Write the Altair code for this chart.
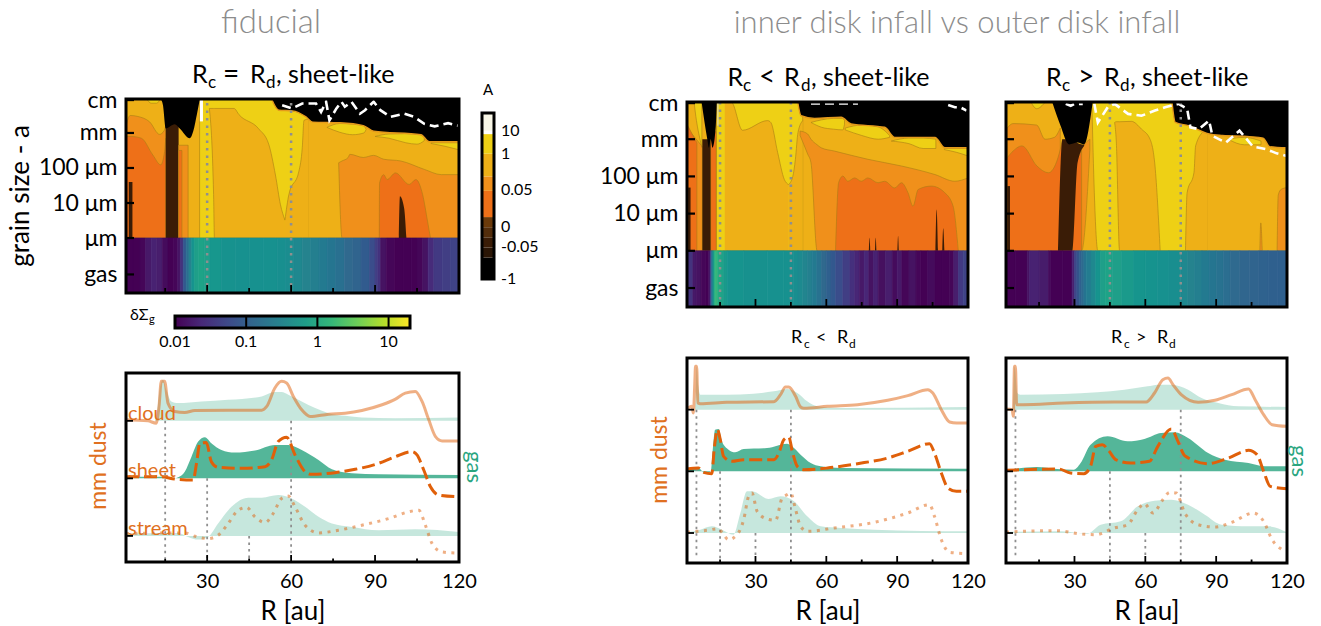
import altair as alt
import pandas as pd

FONT = "Lato"
C_BASE, C_YEL, C_MID, C_ORG = "#eeb017", "#eed015", "#f0901b", "#ee7018"
C_BRN, C_BLK, C_WHT = "#3a1c06", "#000000", "#ffffff"
C_DUST, C_GAS, C_LABEL = "#e0600a", "#1b9e77", "#e07020"
C_DOT = "#8f8f8f"
C_HEAD = "#8c8c8c"
XMIN, XMAX = 1, 120

# ---------------- heat-map contour regions: (colour, R, lower log a, upper log a)
TOP_L = [
    (C_BASE, [1, 120], 0, 3.97),
    (C_MID, [1, 2.5, 5.3, 9.4, 13, 14.6, 15.2], 0, [3.2, 3.5, 3.47, 3.32, 2.96, 3.06, 3.2]),
    (C_ORG, [1, 2.9, 6.5, 10.6, 13.4, 14.8, 15.2], 0, [2.9, 2.9, 2.85, 2.37, 2.09, 2.47, 2.85]),
    (C_BRN, [2, 3.3], 0, 1.6),
    (C_YEL, [8.4, 10, 12, 13.2], [3.97, 3.85, 3.85, 3.97], 3.97),
    (C_BRN, [15.2, 19.8], 0, 3.3),
    (C_MID, [19.8, 23.2], 0, 2.65),
    (C_ORG, [19.8, 21], 0, 2.5),
    (C_YEL, [27.3, 66], 0, 3.97),
    (C_BASE, [30.8, 32.3, 32.6, 39.6, 41.4, 48.4, 52, 54.4, 56.2, 57.8],
     [3.7, 1.24, 0, 0, 0, 0, 0, 0, 0, 0], [3.7, 3.7, 3.7, 3.7, 3.52, 3.12, 2.68, 1.8, 0.95, 0.51]),
    (C_BASE, [57.8, 59.2, 62.8, 64, 64.6, 66.2], 0, [0.51, 1.24, 1.91, 2.59, 3.36, 3.4]),
    (C_MID, [77, 78.2, 80.4, 81, 85.8, 89.5, 93.1, 99.2, 107.6, 113.7, 120],
     [2.15, 0, 0, 0, 0, 0, 0, 0, 0, 0, 0], [2.15, 2.2, 2.3, 2.39, 2.3, 2.36, 2.25, 2.2, 1.96, 1.81, 1.81]),
    (C_ORG, [91.5, 91.6, 93.1, 94.3, 97.3, 102.2, 104.6, 107, 108.8, 109.8], 0,
     [0, 1.57, 1.81, 1.67, 1.86, 1.53, 1.67, 1.24, 0.46, 0]),
    (C_BRN, [98.5, 98.9, 100.4, 101.2], 0, [0, 1.19, 0.85, 0]),
    (C_YEL, [72.8, 77.4, 82, 86, 86.8], [3.16, 3.02, 2.95, 3.0, 3.1], [3.16, 3.27, 3.25, 3.2, 3.1]),
    (C_YEL, [90, 95, 101, 105, 107.6], [2.9, 2.85, 2.72, 2.68, 2.78], [2.9, 2.97, 2.98, 2.97, 2.9]),
    (C_YEL, [110, 115, 120], [2.7, 2.62, 2.52], 2.72),
    (C_BLK, [13.4, 14.2, 15.2, 18.4, 20.2, 23.8, 25, 26.5, 27.4],
     [3.97, 3.8, 3.13, 3.25, 3.13, 2.85, 3.04, 3.6, 3.97], 3.97),
    (C_BLK, [53, 55.6, 60.4, 65.3, 67.7, 77.4, 85.8, 89.5, 106.4, 109.4, 120],
     [3.97, 3.65, 3.63, 3.46, 3.31, 3.29, 3.21, 3.05, 2.95, 2.75, 2.75], 3.97),
    (C_WHT, [27.4, 28.5], 3.33, 3.97),
]
TOP_M = [
    (C_BASE, [1, 120], 0, 4),
    (C_MID, [1, 7.5], 0, [3.3, 2.8]),
    (C_ORG, [1, 5.2], 0, [3.4, 2.9]),
    (C_BRN, [1.5, 2.5], 0, 1.7),
    (C_YEL, [4, 5, 6.5, 7.3], [3.99, 3.5, 3.0, 2.78], 4),
    (C_ORG, [11, 13.4], 0, 3.2),
    (C_BRN, [7.5, 11], 0, 3.0),
    (C_YEL, [13.5, 50], 0, 4),
    (C_BASE, [17, 17.1, 19.8, 24.5, 35.1, 36.5, 39.4, 42.2, 44], 0,
     [3.99, 3.99, 3.99, 3.24, 3.5, 3.45, 2.64, 1.92, 1.78]),
    (C_BASE, [44, 45.8, 46.9, 48, 50], 0, [1.78, 2.0, 2.46, 3.18, 3.5]),
    (C_MID, [48.9, 52.1, 53.5, 56.1, 57.8, 63.5, 77.6, 91.8, 106, 114.4, 120],
     [3.1, 2.6, 2.37, 0, 0, 0, 0, 0, 0, 0, 0],
     [3.22, 3.14, 3.0, 2.85, 2.77, 2.68, 2.46, 2.28, 2.05, 1.87, 1.96]),
    (C_ORG, [63.9, 65.2, 67, 69.1, 72, 74.8, 77.6, 81.9, 84.7, 89, 91.8, 94.6, 96.7, 98.9, 104.5, 110.2, 113.7, 115.9], 0,
     [0, 1.83, 2.01, 1.87, 1.96, 1.87, 1.96, 1.83, 1.87, 1.69, 1.83, 1.56, 1.2, 1.65, 1.74, 1.56, 1.2, 0]),
    (C_BRN, [106.2, 106.7, 107.3], 0, [0, 1.11, 0]),
    (C_BRN, [109.1, 109.5, 110], 0, [0, 0.61, 0]),
    (C_BRN, [78, 78.3, 78.6], 0, [0, 0.35, 0]),
    (C_BRN, [80.6, 80.9, 81.2], 0, [0, 0.35, 0]),
    (C_BRN, [90.1, 90.4, 90.7], 0, [0, 0.4, 0]),
    (C_YEL, [53.5, 58, 63, 67, 67.7], [3.45, 3.32, 3.27, 3.25, 3.4], [3.45, 3.52, 3.56, 3.56, 3.5]),
    (C_YEL, [68, 75, 82, 86.8], [3.25, 3.1, 3.0, 3.05], [3.3, 3.38, 3.33, 3.1]),
    (C_YEL, [87.5, 95, 101, 106.4], [2.95, 2.88, 2.75, 2.75], [2.95, 3.03, 3.03, 3.0]),
    (C_YEL, [110, 115, 120], [2.72, 2.65, 2.55], 2.75),
    (C_BLK, [7.2, 9.6, 10.3, 11, 11.8, 13.2, 13.6], [3.99, 3.0, 2.77, 3.0, 2.77, 3.36, 3.99], 4),
    (C_BLK, [47.9, 49.3, 55, 66.3, 70.5, 84.7, 89, 106, 110.2, 120],
     [3.99, 3.63, 3.56, 3.59, 3.41, 3.32, 3.05, 3.05, 2.77, 2.77], 4),
    ("#dddddd", [13.9, 14.3], 3.36, 4),
]
TOP_R = [
    (C_BASE, [1, 120], 0, 4),
    (C_YEL, [11.6, 14, 17.5], [3.99, 3.82, 3.99], 4),
    (C_MID, [1.5, 4, 14, 17.5, 21.5, 24], 0, [3.3, 3.42, 3.38, 3.0, 3.05, 3.3]),
    (C_ORG, [1.5, 3.5, 7.8, 14.1, 19, 23, 25], 0, [2.5, 2.65, 2.82, 2.28, 2.1, 2.5, 3.0]),
    (C_BRN, [1.6, 2.7], 0, 1.74),
    (C_MID, [29.1, 33, 36.5], [0, 0, 2.7], [2.5, 2.8, 3.0]),
    (C_ORG, [29.1, 31.5, 33], 0, [2.2, 2.5, 2.7]),
    (C_BRN, [23, 24.9, 29.1, 31.3, 34.1], [0, 0, 0, 2.37, 2.82], [0, 3.0, 3.0, 2.9, 2.85]),
    (C_YEL, [37.4, 38.4, 39.9, 86], [3.9, 1.56, 0, 0], 4),
    (C_BASE, [47, 47.7, 49.1, 54.1, 58.4, 62, 64.1, 66.3], [3.45, 2.95, 0, 0, 0, 0, 0, 0],
     [3.45, 3.47, 3.47, 3.48, 3.27, 3.0, 2.28, 0]),
    (C_BASE, [77, 77.7, 80.6, 81.3, 84.9, 86.2], 0, [0, 1.56, 2.1, 2.82, 3.23, 3.3]),
    (C_MID, [115.8, 116.3, 117.5, 120], 0, [0, 1.5, 1.65, 1.7]),
    (C_MID, [108.5, 108.9, 109.5], 0, [0, 0.75, 0]),
    (C_YEL, [95, 102, 109], [3.0, 2.85, 2.85], [3.0, 3.05, 2.95]),
    (C_BLK, [20.6, 24.1, 27.7, 31.3, 34.1, 37.7], [3.99, 3.36, 2.86, 2.91, 2.86, 3.99], 4),
    (C_BLK, [71.3, 72.7, 78.4, 87, 92.7, 104.1, 109.9, 112.7, 120],
     [3.99, 3.45, 3.36, 3.14, 3.1, 3.07, 3.03, 2.8, 2.77], 4),
]
WHITE_L = [[(56.8, 3.79), (60.4, 3.70), (64, 3.84), (68.9, 3.84), (70.7, 3.6), (72.5, 3.89), (73.7, 3.36),
            (76.2, 3.7), (78, 3.89), (79.2, 3.75), (81.6, 3.89), (84.6, 3.55), (86.4, 3.65), (89.5, 3.89),
            (91.9, 3.65), (95.5, 3.46), (100.4, 3.55), (103.9, 3.46), (107.6, 3.26), (111.3, 3.19),
            (116.1, 3.28), (119.7, 3.21)]]
WHITE_M = [[(53.5, 3.96), (73.4, 3.96)], [(111.6, 3.92), (114.4, 3.86), (116.6, 3.86), (119.4, 3.77)]]
WHITE_R = [[(26.3, 3.95), (28.4, 3.9), (30, 3.95), (33.5, 3.95)],
           [(38.4, 3.95), (39.9, 3.45), (44.1, 3.86), (47, 3.95), (52.7, 3.68), (58.4, 3.63), (64.1, 3.77),
            (68.4, 3.86), (74.1, 3.95), (77.7, 3.82), (79.1, 3.32), (82.7, 3.27), (87, 3.5), (88.4, 3.09),
            (94.1, 2.91), (99.9, 3.23), (105.6, 2.8), (111.3, 2.73), (115.6, 2.62), (119.9, 2.55)]]

# ---------------- gas surface-density strips
GAS_L_EDGES = [1, 3.5, 6, 8, 10, 12, 14, 16, 18, 19.5, 20.5, 21.5, 22.5, 23.5, 24.5, 25.5, 27, 29, 31, 35, 40, 45, 50, 55,
               58, 61, 64, 67, 70, 73, 76, 79, 82, 85, 88, 90, 91, 92, 94, 97, 100, 103, 105, 107, 109, 111, 114, 117, 120]
GAS_L_VALS = [.01, .01, .011, .016, .02, .018, .012, .01, .011, .015, .03, .08, .15, .3, .5, .7, .8, .7, .55, .47,
              .45, .45, .45, .43, .4, .35, .3, .26, .22, .19, .16, .13, .11, .085, .06, .04, .03, .014, .011, .01,
              .01, .01, .011, .014, .025, .035, .04, .045]
GAS_M_EDGES = [1, 3.5, 5, 7, 9, 10, 10.8, 11.4, 12, 12.6, 13.2, 14, 15, 16.5, 18, 25, 35, 42, 46, 48, 50, 52, 54, 56, 58,
               60, 62, 64, 67, 70, 72, 74, 76, 78, 80, 82, 85, 88, 90, 92, 95, 98, 100, 103, 106, 109, 112, 114, 116, 118, 120]
GAS_M_VALS = [.03, .016, .014, .011, .01, .012, .05, .2, .6, 1.2, 1.6, 1.1, .8, .6, .5, .46, .45, .45, .42, .37,
              .32, .27, .22, .17, .13, .1, .08, .06, .04, .028, .022, .016, .022, .014, .02, .013, .018, .012, .016, .011,
              .014, .011, .01, .012, .01, .01, .011, .018, .035, .045]
GAS_R_EDGES = [1, 5, 10, 11, 15, 19, 20, 25, 29, 30, 31, 32, 33, 34, 35, 37, 39, 41, 43, 46, 50, 55, 60, 65, 70, 75, 78,
               81, 84, 87, 90, 93, 96, 100, 104, 108, 112, 116, 120]
GAS_R_VALS = [.01, .01, .014, .02, .017, .012, .01, .01, .02, .05, .07, .1, .14, .18, .24, .35, .5, .7, .8, .7,
              .6, .52, .48, .45, .42, .35, .3, .26, .22, .19, .17, .15, .135, .12, .11, .105, .1, .1]

# ---------------- profile curves (R, height in arbitrary reading units, larger = lower on the panel)
L_CG = [(1, 183), (11.2, 183), (12.2, 150), (13.1, 85), (14.2, 60), (15.4, 90), (17.2, 125), (19.6, 130), (28, 125), (37.5, 120),
        (49.5, 110), (54.2, 97), (56.6, 97), (59, 105), (63.8, 125), (68.6, 145), (73.4, 160), (79.3, 168), (85.3, 173), (97.3, 175), (120, 173)]
L_CD = [(1, 180), (8.8, 183), (11.8, 190), (12.8, 140), (13.6, 65), (14.8, 65), (16, 130), (18.4, 155), (22, 158), (25.6, 152),
        (37.5, 151), (49.5, 151), (51.3, 140), (54.2, 85), (56.6, 65), (58.4, 70), (60.8, 110), (63.8, 150), (66.8, 170), (73.4, 163),
        (79.3, 160), (85.3, 152), (92.5, 135), (97.3, 118), (100.8, 100), (104.4, 95), (106.8, 125), (109.2, 180), (111.6, 230), (114, 243), (120, 243)]
L_SG = [(1, 350), (13.6, 350), (17.2, 358), (19.6, 352), (22, 335), (24.4, 290), (26.8, 245), (29.2, 232), (31.5, 250), (35.1, 270),
        (39.9, 278), (47.1, 272), (54.2, 255), (59, 255), (63.8, 270), (69.8, 300), (74.6, 328), (81.7, 340), (91.3, 343), (120, 345)]
L_SD = [(1, 350), (13.6, 350), (18.4, 357), (25, 360), (26.2, 310), (27.4, 250), (29.7, 248), (31.5, 305), (33.9, 322), (42.3, 325),
        (50.7, 320), (53, 300), (55.4, 245), (58.4, 232), (61.4, 285), (65, 335), (67.4, 343), (75.7, 338), (82.9, 328), (91.3, 310),
        (97.3, 290), (103.2, 275), (105, 285), (107.4, 330), (109.8, 380), (112.8, 405), (120, 410)]
L_TG = [(1, 520), (19.6, 518), (23.2, 530), (26.8, 538), (30.3, 530), (33.9, 490), (38.7, 440), (44.7, 413), (49.5, 413), (55.4, 405),
        (60.2, 415), (65, 440), (69.8, 470), (74.6, 490), (81.7, 500), (91.3, 510), (104.4, 507), (120, 515)]
L_TD = [(1, 520), (22, 518), (25.6, 528), (30.3, 535), (33.9, 525), (37.5, 490), (41.1, 450), (44.1, 442), (47.1, 470), (50.7, 487),
        (53.6, 460), (56.6, 415), (59, 408), (61.4, 440), (65, 495), (69.8, 518), (76.9, 510), (85.3, 495), (94.9, 475), (102, 455),
        (105.6, 450), (108, 495), (110.4, 550), (114, 575), (118.8, 578)]

M_CG = [(1, 180), (4.4, 180), (5.1, 50), (5.8, 110), (6.6, 135), (17.9, 135), (29.2, 132), (37.8, 125), (43.4, 118), (47.7, 130),
        (51.9, 155), (56.2, 170), (66.1, 175), (120, 172)]
M_CD = [(1, 178), (3, 170), (3.7, 190), (4.3, 100), (4.6, 50), (5.1, 50), (5.6, 160), (6.6, 162), (17.9, 158), (37.8, 156), (40.6, 135),
        (42.7, 112), (44.1, 112), (47, 140), (49.1, 172), (50.5, 176), (60.5, 170), (73.2, 165), (86, 152), (94.5, 138), (103, 120),
        (105.1, 130), (108.7, 180), (112.2, 217), (115.1, 220), (120, 220)]
M_SG = [(1, 358), (5.8, 355), (8.7, 372), (11.1, 365), (11.9, 300), (12.9, 240), (14.4, 238), (15.8, 275), (18.6, 300), (21.4, 308),
        (25, 298), (34.9, 295), (43.4, 282), (46.3, 295), (49.1, 315), (53.4, 340), (57.6, 350), (66.1, 355), (120, 357)]
M_SD = [(1, 358), (5.8, 355), (8, 368), (11.5, 372), (12.5, 300), (13.9, 240), (15.1, 270), (16.5, 320), (20, 335), (25, 330),
        (37.8, 330), (39.9, 310), (42, 270), (44.1, 262), (45.6, 305), (47.7, 350), (50.5, 360), (60.5, 355), (73.2, 342), (86, 325),
        (94.5, 305), (103.7, 282), (105.8, 310), (108.7, 370), (111.5, 415), (115.1, 425), (120, 425)]
M_TG = [(1, 548), (6.6, 540), (11.5, 530), (15.8, 540), (20.7, 555), (23.6, 490), (26.4, 425), (28.5, 425), (35.6, 448), (40.6, 440),
        (46.3, 455), (51.9, 500), (57.6, 530), (66.1, 535), (80.3, 540), (120, 545)]
M_TD = [(1, 548), (9.4, 542), (14.4, 537), (15.8, 548), (18.6, 570), (22.2, 555), (25, 510), (27.1, 440), (28.5, 430), (30.7, 485),
        (34.9, 508), (38.5, 512), (41.3, 445), (43.4, 435), (44.9, 430), (47, 480), (49.1, 530), (51.9, 545), (63.3, 535), (80.3, 518),
        (94.5, 490), (103.7, 465), (105.8, 500), (108.7, 570), (112.2, 608), (120, 612)]

R_CG = [(1, 180), (3.8, 180), (4.6, 50), (5.8, 130), (7, 135), (25.5, 133), (39.7, 128), (51.1, 120), (61, 110), (65.3, 105), (71, 105),
        (78.1, 120), (83.8, 145), (90.9, 160), (99.4, 170), (120, 172)]
R_CD = [(1, 178), (3.6, 180), (4.1, 200), (4.6, 50), (5, 50), (5.5, 165), (8.4, 165), (25.5, 160), (46.8, 157), (60.3, 157), (63.9, 130),
        (67.4, 90), (69.6, 85), (71.7, 105), (75.2, 135), (82.4, 158), (89.5, 152), (96.6, 135), (103.7, 118), (106.5, 150), (110.1, 195),
        (113.7, 225), (120, 230)]
R_SG = [(1, 362), (14.1, 352), (22.6, 358), (29.7, 360), (32.6, 340), (36.8, 285), (44, 260), (52.5, 275), (59.6, 268), (66.7, 250),
        (72.4, 248), (78.1, 265), (86.6, 310), (93.7, 330), (103.7, 340), (110.8, 350), (120, 350)]
R_SD = [(1, 362), (23.3, 358), (28.3, 370), (34, 372), (36.8, 350), (39, 290), (41.8, 285), (44.7, 305), (47.5, 330), (53.9, 340),
        (61.7, 335), (65.3, 290), (71, 238), (73.8, 275), (76.7, 318), (86.6, 342), (95.2, 325), (103.7, 302), (107.3, 315), (110.1, 365),
        (112.9, 410), (120, 417)]
R_TG = [(1, 547), (24, 545), (35.4, 552), (41.1, 525), (49.6, 515), (56.8, 470), (63.9, 453), (71, 450), (78.1, 465), (85.2, 495),
        (92.3, 525), (103.7, 530), (112.2, 530), (120, 548)]
R_TD = [(1, 547), (22.6, 543), (32.6, 553), (39, 555), (46.8, 535), (52.5, 525), (56.8, 480), (59.6, 462), (63.2, 490), (67.4, 450),
        (70.3, 428), (73.1, 430), (76.7, 490), (82.4, 525), (89.5, 532), (96.6, 518), (105.8, 490), (110.1, 515), (113.7, 570), (117.9, 600)]

# vertical markers: (R, top reading) for profile panels
V_L = [(15, 183), (60, 183), (30, 355), (45, 527)]
V_M = [(5, 180), (45, 180), (15, 365), (30, 550)]
V_R = [(5, 180), (75, 180), (45, 365), (60, 550)]

# colour bar levels
A_EDGES = [0, .129, .19, .251, .312, .373, .531, .618, .755, .873, .894, 1]
A_COLORS = ["#000000", "#2a1505", "#3a1c06", "#532d0b", "#6b3a0a", C_ORG, C_MID, C_BASE, C_YEL, "#ffffff", "#f8f6e6"]
A_TICKS = [0, .19, .312, .537, .755, .894]
A_LABELS = ["-1", "-0.05", "0", "0.05", "1", "10"]
VIRIDIS = ["#440154", "#482878", "#3e4989", "#31688e", "#26828e", "#1f9e89", "#35b779", "#6ece58", "#b5de2b", "#fde725"]
CB_LABELS = [0.01, 0.1, 1, 10]
CB_TICKS = [0.1, 1, 10]
CB_DOMAIN = [0.01, 20]

ONE = pd.DataFrame({"a": [0]})


def T(text, x, y, size, color="black", angle=0, align="left", baseline="alphabetic", weight=400):
    return alt.Chart(ONE).mark_text(text=text, font=FONT, fontSize=size, color=color, angle=angle, align=align,
                                    baseline=baseline, fontWeight=weight, clip=False).encode(x=alt.value(x), y=alt.value(y))


def frame(w, top, bottom):
    return alt.Chart(ONE).mark_rect(fillOpacity=0, stroke="black", strokeWidth=3).encode(
        x=alt.value(0), x2=alt.value(w), y=alt.value(top), y2=alt.value(bottom))


def spacer(w, h):
    return alt.Chart(ONE).mark_point(opacity=0, size=1).encode(x=alt.value(0), y=alt.value(0)).properties(width=w, height=h)


def top_panel(regions, whites, edges, vals, vlines, w, h, top, ymin, ymax, gas_tick, labelled, extra):
    xs = alt.Scale(domain=[XMIN, XMAX], nice=False, zero=False)
    ys = alt.Scale(domain=[ymin, ymax], nice=False, zero=False, range=[top + h, top])
    xa = alt.Axis(labels=False, ticks=False, domain=False, grid=False, title=None)
    ya = alt.Axis(values=[gas_tick, 0, 1, 2, 3, ymax - 0.03], domain=False, ticks=False, grid=False, title=None,
                  labels=labelled, labelFontSize=23, labelColor="black", labelPadding=9, labelOverlap=False, labelBound=False,
                  labelFlush=False,
                  labelExpr="datum.value>3.5?'cm':datum.value>2.5?'mm':datum.value>1.5?'100 μm':datum.value>0.5?'10 μm':datum.value>-0.5?'μm':'gas'")
    X = alt.X("R:Q", scale=xs, axis=xa)
    Y = alt.Y("L:Q", scale=ys, axis=ya)
    layers = []
    for i, (color, R, lo, hi) in enumerate(regions):
        lo = lo if isinstance(lo, list) else [lo] * len(R)
        hi = hi if isinstance(hi, list) else [hi] * len(R)
        d = pd.DataFrame({"R": R, "L": lo, "U": hi})
        line_only = color == C_BASE and i > 0
        if color == C_BLK and R[-1] >= 120:
            st, sw = "#e59a1c", 1.4
        elif color in (C_BLK, C_BRN, C_WHT, "#dddddd") or line_only:
            st, sw = color, 0
        else:
            st, sw = "#a97d14", 0.6
        layers.append(alt.Chart(d).mark_area(color=color, stroke=st, strokeWidth=sw, opacity=1, clip=True,
                                             interpolate="monotone").encode(x=X, y=Y, y2="U:Q"))
        if line_only:
            dh = pd.DataFrame({"R": R, "L": hi})
            layers.append(alt.Chart(dh).mark_line(color="#a97d14", strokeWidth=0.6, clip=True, interpolate="monotone").encode(x=X, y=Y))
            dl = pd.DataFrame({"R": R, "L": lo})
            layers.append(alt.Chart(dl).mark_line(color="#a97d14", strokeWidth=0.6, clip=True, interpolate="monotone").encode(x=X, y=Y))
    band = pd.DataFrame({"R": edges[:-1], "R2": edges[1:], "L": ymin, "U": 0.0, "v": vals})
    cs = alt.Scale(type="log", domain=CB_DOMAIN, range=VIRIDIS)
    layers.append(alt.Chart(band).mark_rect(strokeWidth=0.7).encode(
        x=X, x2="R2:Q", y=Y, y2="U:Q",
        color=alt.Color("v:Q", scale=cs, legend=None), stroke=alt.Stroke("v:Q", scale=cs, legend=None)))
    for seg in whites:
        d = pd.DataFrame(seg, columns=["R", "L"])
        layers.append(alt.Chart(d).mark_line(color="white", strokeWidth=2.6, strokeDash=[9, 5], clip=True).encode(x=X, y=Y))
    d = pd.DataFrame({"R": vlines, "L": [ymin] * len(vlines), "U": [ymax] * len(vlines)})
    layers.append(alt.Chart(d).mark_rule(color=C_DOT, strokeWidth=2.5, strokeDash=[2.5, 5]).encode(x=X, y=Y, y2="U:Q"))
    ppx = (ymax - ymin) / h
    d = pd.DataFrame({"R": [15, 30, 45, 60, 75, 90, 105], "L": [ymin] * 7,
                      "U": [ymin + n * ppx for n in (5, 8, 5, 8, 5, 8, 5)]})
    layers.append(alt.Chart(d).mark_rule(color="black", strokeWidth=1.8).encode(x=X, y=Y, y2="U:Q"))
    d = pd.DataFrame({"R": [XMIN] * 6, "R2": [XMIN + 8 * (XMAX - XMIN) / w] * 6, "L": [gas_tick, 0, 1, 2, 3, ymax - 0.03]})
    layers.append(alt.Chart(d).mark_rule(color="black", strokeWidth=2.2).encode(x=X, x2="R2:Q", y=Y))
    layers.append(frame(w, top, top + h))
    layers.extend(extra)
    return alt.layer(*layers).properties(width=w, height=top + h)


def bottom_panel(curves, baselines, vmarks, w, h, top, zmin, zmax, ppx, extra):
    xs = alt.Scale(domain=[XMIN, XMAX], nice=False, zero=False)
    ys = alt.Scale(domain=[zmax, zmin], nice=False, zero=False, range=[top + h, top])
    xa = alt.Axis(values=[30, 60, 90, 120], title="R  [au]", labelFontSize=20, titleFontSize=26, titleFontWeight="normal",
                  titleColor="black", labelColor="black", domain=False, ticks=False, grid=False, labelPadding=8, titlePadding=7,
                  labelFlush=False, labelAngle=0, format="d")
    ya = alt.Axis(labels=False, ticks=False, domain=False, grid=False, title=None)
    X = alt.X("R:Q", scale=xs, axis=xa)
    Y = alt.Y("z:Q", scale=ys, axis=ya)
    layers = []
    gas_op = [0.25, 0.75, 0.25]
    for (gas, _), base, op in zip(curves, baselines, gas_op):
        d = pd.DataFrame(gas, columns=["R", "z"])
        d["b"] = base
        layers.append(alt.Chart(d).mark_area(color=C_GAS, opacity=op, interpolate="monotone").encode(x=X, y=Y, y2="b:Q"))
    rows = []
    for R, zt in vmarks:
        rows.append({"R": R, "z": zt, "z2": zmax - 12})
    layers.append(alt.Chart(pd.DataFrame(rows)).mark_rule(color=C_DOT, strokeWidth=1.8, strokeDash=[2.5, 4]).encode(x=X, y=Y, y2="z2:Q"))
    styles = [dict(opacity=0.5), dict(opacity=1, strokeDash=[13, 5]), dict(opacity=0.5, strokeDash=[3, 5.5])]
    for (_, dust), sty in zip(curves, styles):
        d = pd.DataFrame(dust, columns=["R", "z"])
        layers.append(alt.Chart(d).mark_line(color=C_DUST, strokeWidth=3, interpolate="monotone", **sty).encode(x=X, y=Y))
    d = pd.DataFrame({"R": [15, 30, 45, 60, 75, 90, 105], "z": [zmax] * 7,
                      "z2": [zmax - n * ppx for n in (3.5, 7, 3.5, 7, 3.5, 7, 3.5)]})
    layers.append(alt.Chart(d).mark_rule(color="black", strokeWidth=1.8).encode(x=X, y=Y, y2="z2:Q"))
    d = pd.DataFrame({"R": [XMIN] * 3, "R2": [XMIN + 7 * (XMAX - XMIN) / w] * 3, "z": baselines})
    layers.append(alt.Chart(d).mark_rule(color="black", strokeWidth=1.8).encode(x=X, x2="R2:Q", y=Y))
    layers.append(frame(w, top, top + h))
    layers.extend(extra)
    return alt.layer(*layers).properties(width=w, height=205)


def title_frags(x0, xs, base, big, small, op, opsize):
    R1, c, o, R2, d, tail = xs
    rows = [T("R", R1 - x0, base, big), T("c", c - x0, base + 5, small), T(op, o - x0, base, opsize),
            T("R", R2 - x0, base, big), T("d", d - x0, base + 5, small)]
    if tail is not None:
        rows.append(T(", sheet-like", tail - x0, base, big))
    return rows


# ---- left column
LX, LW, LH = 125, 333, 194
left_extra = [
    T("fiducial", 145, -66, 33, C_HEAD, align="center", weight=300),
    T("grain size - a", -105, 97, 26, angle=270, align="center", baseline="middle"),
] + title_frags(LX, (191, 207, 222, 249, 265, 275), -16, 25, 17, "=", 28)
top_l = top_panel(TOP_L, WHITE_L, GAS_L_EDGES, GAS_L_VALS, [30, 60], LW, LH, 0, -1.57, 3.97, -1.04, True, left_extra)

cbx = alt.X("v:Q", scale=alt.Scale(type="log", domain=CB_DOMAIN, range=[49, 284], nice=False), axis=None)
cb_rect = pd.DataFrame({"v": [CB_DOMAIN[0]], "v2": [CB_DOMAIN[1]]})
cbar = alt.layer(
    alt.Chart(cb_rect).mark_rect(color=alt.LinearGradient(gradient="linear", stops=[alt.GradientStop(color=c, offset=i / 9) for i, c in enumerate(VIRIDIS)],
                                                          x1=0, x2=1, y1=0, y2=0)).encode(x=cbx, x2="v2:Q", y=alt.value(9), y2=alt.value(21)),
    alt.Chart(pd.DataFrame({"v": CB_TICKS})).mark_rule(color="black", strokeWidth=2).encode(x=cbx, y=alt.value(9), y2=alt.value(21)),
    alt.Chart(cb_rect).mark_rect(fillOpacity=0, stroke="black", strokeWidth=3).encode(x=cbx, x2="v2:Q", y=alt.value(9), y2=alt.value(21)),
    alt.Chart(pd.DataFrame({"v": CB_LABELS, "t": ["0.01", "0.1", "1", "10"]})).mark_text(font=FONT, fontSize=16, align="center", color="black", baseline="alphabetic").encode(
        x=cbx, y=alt.value(40), text="t:N"),
    T("δΣ", 4, 13, 16), T("g", 23, 16, 11),
).properties(width=LW, height=51)

bot_l = bottom_panel([(L_CG, L_CD), (L_SG, L_SD), (L_TG, L_TD)], [183, 355, 527], V_L, LW, 189, 15, 40, 605, 3.0, [
    T("cloud", 2, 62, 20, C_LABEL), T("sheet", 2, 119, 20, C_LABEL), T("stream", 2, 177, 20, C_LABEL),
    T("mm dust", -27, 108, 23, C_LABEL, angle=270, align="center", baseline="middle"),
    T("gas", 348, 109, 22, "#2aa57f", angle=90, align="center", baseline="middle"),
])

# ---- colour bar A
a_df = pd.DataFrame({"f": A_EDGES[:-1], "f2": A_EDGES[1:], "c": A_COLORS})
a_y = alt.Y("f:Q", scale=alt.Scale(domain=[0, 1], nice=False, range=[180, 14]), axis=None)
a_layers = [alt.Chart(a_df).mark_rect().encode(x=alt.value(0), x2=alt.value(12), y=a_y, y2="f2:Q",
                                               color=alt.Color("c:N", scale=None, legend=None))]
a_layers.append(frame(12, 14, 180))
a_layers.append(alt.Chart(pd.DataFrame({"f": A_TICKS, "t": A_LABELS})).mark_text(font=FONT, fontSize=16, align="left", baseline="middle", color="black").encode(
    x=alt.value(19), y=a_y, text="t:N"))
a_layers.append(T("A", 1, -4, 15))
a_bar = alt.layer(*a_layers).properties(width=12, height=180)

# ---- middle and right columns
MW, MH = 281, 205
mid_extra = [T("inner disk infall vs outer disk infall", 270, -66, 31, C_HEAD, align="center", weight=300)] + title_frags(
    686, (726.5, 742, 758, 783, 800, 810), -13, 25, 17, "<", 28)
top_m = top_panel(TOP_M, WHITE_M, GAS_M_EDGES, GAS_M_VALS, [15, 45], MW, MH, 3, -1.51, 4.0, -1.0, True, mid_extra)
top_r = top_panel(TOP_R, WHITE_R, GAS_R_EDGES, GAS_R_VALS, [45, 75], MW, MH, 3, -1.51, 4.0, -1.0, False,
                  title_frags(1005, (1045, 1061, 1077, 1103, 1119, 1129), -13, 25, 17, ">", 28))
bot_m = bottom_panel([(M_CG, M_CD), (M_SG, M_SD), (M_TG, M_TD)], [180, 365, 550], V_M, MW, MH, 0, 25, 640, 3.0,
                     [T("mm dust", -27, 102, 23, C_LABEL, angle=270, align="center", baseline="middle")] + title_frags(
                         686, (790, 803, 815, 836, 848, None), -15, 18, 12, "<", 18))
bot_r = bottom_panel([(R_CG, R_CD), (R_SG, R_SD), (R_TG, R_TD)], [180, 365, 550], V_R, MW, MH, 0, 25, 640, 3.0,
                     [T("gas", 293, 103, 22, "#2aa57f", angle=90, align="center", baseline="middle")] + title_frags(
                         1005, (1110, 1123, 1135, 1156, 1168, None), -15, 18, 12, ">", 18))

# four shared rows, eight columns
columns = [
    (117, [None, None, None, None]),
    (LW, [None, top_l, cbar, bot_l]),
    (23, [None, None, None, None]),
    (12, [None, a_bar, None, None]),
    (193, [None, None, None, None]),
    (MW, [None, top_m, None, bot_m]),
    (38, [None, None, None, None]),
    (MW, [None, top_r, None, bot_r]),
]
ROW_H = [91, 1, 51, 1]
cells = []
for row in range(4):
    for wid, items in columns:
        cells.append(items[row] if items[row] is not None else spacer(wid, ROW_H[row]))

chart = alt.concat(*cells, columns=len(columns), spacing=0, bounds="flush", align="none").properties(
    padding={"left": 0, "top": -1, "right": 0, "bottom": 0}
).configure_view(stroke=None).configure_axis(labelFont=FONT, titleFont=FONT).configure_text(font=FONT)

chart.save("out.html", embed_options={"renderer": "svg", "actions": False})
